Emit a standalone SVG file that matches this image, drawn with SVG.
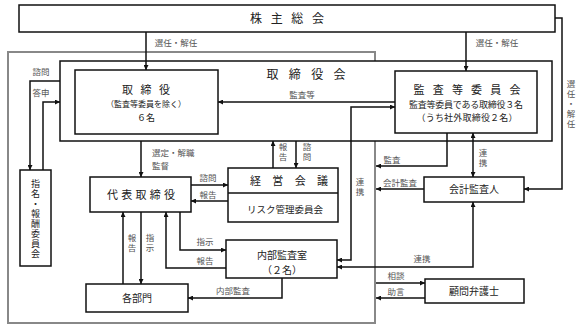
<svg xmlns="http://www.w3.org/2000/svg" width="588" height="329" viewBox="0 0 588 329">
<style>
.box{fill:#fff;stroke:#111;stroke-width:1.5}
.frame{fill:none;stroke:#888;stroke-width:2}
.ln{fill:none;stroke:#111;stroke-width:1.5}
text{font-family:"Noto Sans CJK JP","Noto Sans",sans-serif;fill:#222}
.t12{font-size:12px;text-anchor:middle}
.t11{font-size:11px;text-anchor:middle}
.t9{font-size:9px;text-anchor:middle}
.lb{font-size:8.5px;fill:#555;text-anchor:middle}
.v{font-size:8.5px;fill:#555;writing-mode:vertical-rl;text-orientation:upright;text-anchor:start;letter-spacing:1.5px}
</style>
<defs>
<marker id="ah" viewBox="0 0 6 6" refX="6" refY="3" markerWidth="5" markerHeight="5" markerUnits="userSpaceOnUse" orient="auto-start-reverse">
<path d="M0,0L6,3L0,6z" fill="#111"/>
</marker>
</defs>
<rect class="frame" x="8" y="52" width="367" height="271"/>
<g id="shareholders"><rect class="box" x="19" y="5" width="536" height="27"/><text class="t12" x="287" y="23" textLength="74" lengthAdjust="spacing">株 主 総 会</text></g>
<g id="board"><rect class="box" x="60" y="61" width="492" height="80"/><text class="t12" x="306" y="79" textLength="79" lengthAdjust="spacing">取 締 役 会</text></g>
<g id="directors"><rect class="box" x="75" y="70" width="143" height="64"/>
<text class="t11" x="146" y="94" textLength="48" lengthAdjust="spacing">取 締 役</text>
<text class="t9" x="146" y="107" style="font-size:8px">（監査等委員を除く）</text>
<text class="t9" x="146" y="121">６名</text></g>
<g id="audit"><rect class="box" x="395" y="71" width="142" height="62"/>
<text class="t11" x="467" y="94" textLength="107" lengthAdjust="spacing">監 査 等 委 員 会</text>
<text class="t9" x="466" y="108" textLength="114" lengthAdjust="spacing">監査等委員である取締役３名</text>
<text class="t9" x="467" y="121" textLength="101" lengthAdjust="spacing">（うち社外取締役２名）</text></g>
<g id="nomination"><rect class="box" x="20" y="170" width="31" height="96"/>
<text x="35.5" y="179" style="font-size:9px;writing-mode:vertical-rl;text-orientation:upright;letter-spacing:1px">指名・報酬委員会</text></g>
<g id="ceo"><rect class="box" x="90" y="177" width="101" height="35"/><text class="t11" x="141" y="199" textLength="68" lengthAdjust="spacing">代 表 取 締 役</text></g>
<g id="mgmt"><rect class="box" x="228" y="168" width="110" height="54"/><line class="ln" x1="228" y1="193" x2="338" y2="193"/>
<text class="t11" x="289" y="185" textLength="78" lengthAdjust="spacing">経 営 会 議</text>
<text class="t9" x="285" y="213" style="font-size:9.5px">リスク管理委員会</text></g>
<g id="internal"><rect class="box" x="226" y="240" width="111" height="38"/>
<text class="t9" x="282" y="259" style="font-size:10px">内部監査室</text>
<text class="t9" x="282" y="274" style="font-size:10px">（２名）</text></g>
<g id="depts"><rect class="box" x="86" y="284" width="102" height="28"/><text class="t9" x="137" y="302" style="font-size:10px">各部門</text></g>
<g id="accountant"><rect class="box" x="424" y="177" width="100" height="25"/><text class="t9" x="474" y="193" style="font-size:10px">会計監査人</text></g>
<g id="lawyer"><rect class="box" x="425" y="279" width="99" height="24"/><text class="t9" x="474" y="295" style="font-size:10px">顧問弁護士</text></g>
<g id="connectors">
<line class="ln" x1="146" y1="32" x2="146" y2="70" marker-end="url(#ah)"/>
<line class="ln" x1="466" y1="32" x2="466" y2="71" marker-end="url(#ah)"/>
<polyline class="ln" points="555,18 562,18 562,189 524,189" marker-end="url(#ah)"/>
<line class="ln" x1="395" y1="102" x2="218" y2="102" marker-end="url(#ah)"/>
<polyline class="ln" points="60,81 30,81 30,170" marker-end="url(#ah)"/>
<polyline class="ln" points="43,170 43,102 60,102" marker-end="url(#ah)"/>
<line class="ln" x1="141" y1="141" x2="141" y2="177" marker-end="url(#ah)"/>
<line class="ln" x1="273" y1="168" x2="273" y2="141" marker-end="url(#ah)"/>
<line class="ln" x1="296" y1="141" x2="296" y2="168" marker-end="url(#ah)"/>
<line class="ln" x1="191" y1="185" x2="228" y2="185" marker-end="url(#ah)"/>
<line class="ln" x1="228" y1="201" x2="191" y2="201" marker-end="url(#ah)"/>
<polyline class="ln" points="180,212 180,250 226,250" marker-end="url(#ah)"/>
<polyline class="ln" points="226,268 166,268 166,212" marker-end="url(#ah)"/>
<line class="ln" x1="123" y1="284" x2="123" y2="212" marker-end="url(#ah)"/>
<line class="ln" x1="141" y1="212" x2="141" y2="284" marker-end="url(#ah)"/>
<polyline class="ln" points="282,278 282,298 188,298" marker-end="url(#ah)"/>
<polyline class="ln" points="337,260 351,260 351,107 395,107" marker-start="url(#ah)" marker-end="url(#ah)"/>
<polyline class="ln" points="447,133 447,166 376,166" marker-end="url(#ah)"/>
<line class="ln" x1="473" y1="133" x2="473" y2="177" marker-start="url(#ah)" marker-end="url(#ah)"/>
<line class="ln" x1="424" y1="189" x2="376" y2="189" marker-end="url(#ah)"/>
<polyline class="ln" points="473,202 473,267 337,267" marker-start="url(#ah)" marker-end="url(#ah)"/>
<line class="ln" x1="376" y1="283" x2="425" y2="283" marker-end="url(#ah)"/>
<line class="ln" x1="425" y1="298" x2="376" y2="298" marker-end="url(#ah)"/>
</g>
<g id="labels">
<text class="lb" x="176" y="46">選任・解任</text>
<text class="lb" x="497" y="46">選任・解任</text>
<text class="v" x="571" y="80">選任・解任</text>
<text class="lb" x="302" y="98">監査等</text>
<text class="lb" x="41" y="75">諮問</text>
<text class="lb" x="41" y="96">答申</text>
<text class="lb" x="152" y="156" style="text-anchor:start">選定・解職</text>
<text class="lb" x="152" y="169" style="text-anchor:start">監督</text>
<text class="v" x="283" y="143">報告</text>
<text class="v" x="307" y="143">諮問</text>
<text class="lb" x="208" y="181">諮問</text>
<text class="lb" x="208" y="198">報告</text>
<text class="lb" x="205" y="245">指示</text>
<text class="lb" x="205" y="264">報告</text>
<text class="v" x="132" y="234">報告</text>
<text class="v" x="150" y="234">指示</text>
<text class="lb" x="233" y="294">内部監査</text>
<text class="v" x="360" y="178">連携</text>
<text class="v" x="483" y="149">連携</text>
<text class="lb" x="392" y="163">監査</text>
<text class="lb" x="400" y="186">会計監査</text>
<text class="lb" x="422" y="262">連携</text>
<text class="lb" x="396" y="279">相談</text>
<text class="lb" x="396" y="295">助言</text>
</g>
</svg>
